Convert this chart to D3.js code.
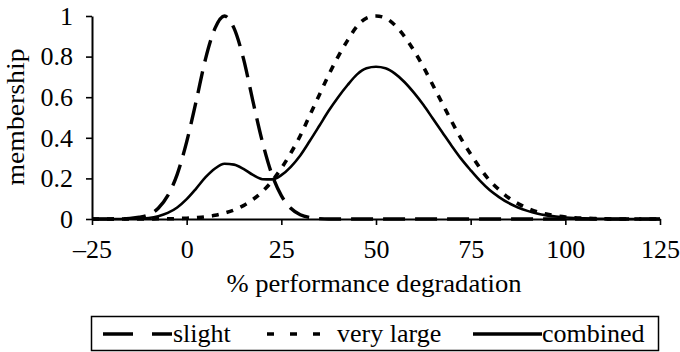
<!DOCTYPE html>
<html>
<head>
<meta charset="utf-8">
<script src="https://cdn.jsdelivr.net/npm/d3@7"></script>
<style>
  body { margin: 0; background: #fff; }
</style>
</head>
<body>
<div id="chart"></div>
<script>
// % performance degradation, every 2.5 from -25 to 125
const xValues = d3.range(-25, 125.01, 2.5);

const slight = [
  0, 0, 0, 0, 0.003, 0.009, 0.021, 0.053, 0.115, 0.22,
  0.38, 0.58, 0.79, 0.94, 1.0, 0.94, 0.79, 0.58, 0.38, 0.22,
  0.115, 0.053, 0.021, 0.007, 0.002, 0, 0, 0, 0, 0,
  0, 0, 0, 0, 0, 0, 0, 0, 0, 0,
  0, 0, 0, 0, 0, 0, 0, 0, 0, 0,
  0, 0, 0, 0, 0, 0, 0, 0, 0, 0, 0
];
const veryLarge = [
  0, 0, 0, 0, 0, 0, 0, 0.001, 0.001, 0.002,
  0.004, 0.007, 0.011, 0.018, 0.029, 0.044, 0.066, 0.096, 0.135, 0.186,
  0.25, 0.325, 0.41, 0.51, 0.61, 0.71, 0.80, 0.88, 0.95, 0.99,
  1.0, 0.99, 0.955, 0.90, 0.83, 0.75, 0.66, 0.57, 0.48, 0.395,
  0.32, 0.25, 0.19, 0.144, 0.105, 0.076, 0.053, 0.036, 0.024, 0.016,
  0.010, 0.006, 0.004, 0.002, 0.001, 0, 0, 0, 0, 0, 0
];
const combined = [
  0, 0, 0, 0, 0.001, 0.002, 0.005, 0.014, 0.030, 0.057,
  0.098, 0.150, 0.206, 0.249, 0.272, 0.268, 0.247, 0.217, 0.196, 0.195,
  0.216, 0.257, 0.313, 0.384, 0.458, 0.533, 0.60, 0.66, 0.7125, 0.7425,
  0.75, 0.7425, 0.716, 0.675, 0.6225, 0.5625, 0.495, 0.4275, 0.36, 0.296,
  0.24, 0.1875, 0.1425, 0.108, 0.079, 0.057, 0.040, 0.027, 0.018, 0.012,
  0.0075, 0.0045, 0.003, 0.0015, 0.001, 0, 0, 0, 0, 0, 0
];

const xTicks = [-25, 0, 25, 50, 75, 100, 125];
const yTicks = [0, 0.2, 0.4, 0.6, 0.8, 1];
const seriesNames = ["slight", "very large", "combined"];

const width = 680, height = 352;
const serif = "'Liberation Serif', Tinos, 'Noto Serif', 'Nimbus Roman', 'Times New Roman', Times, FreeSerif, 'DejaVu Serif', serif";

const svg = d3.select("#chart").append("svg")
  .attr("width", width)
  .attr("height", height)
  .style("font-family", serif);

// if no serif face is found, fall back to a smaller size so widths still match
const probe = svg.append("text").attr("font-size", 26).text("0.8 combined");
const probeW = probe.node().getComputedTextLength();
probe.remove();
const fontSize = probeW > 150 ? 23 : 26;

const x = d3.scaleLinear().domain([-25, 125]).range([92, 660]);
const y = d3.scaleLinear().domain([0, 1]).range([219, 16]);

// dash styles per series
const styles = [
  { dash: "22,10", w: 3.4 },
  { dash: "7,8", w: 3.6 },
  { dash: null, w: 2.6 }
];

const line = d3.line()
  .x((d, i) => x(xValues[i]))
  .y(d => y(d))
  .curve(d3.curveMonotoneX);

// axes
const xAxis = svg.append("g")
  .attr("transform", "translate(0,219)")
  .call(d3.axisBottom(x).tickValues(xTicks).tickSize(6).tickSizeOuter(0).tickPadding(15)
    .tickFormat(d => d < 0 ? "\u2013" + Math.abs(d) : d));
const yAxis = svg.append("g")
  .attr("transform", "translate(92,0)")
  .call(d3.axisLeft(y).tickValues(yTicks).tickSize(6).tickSizeOuter(0).tickPadding(13)
    .tickFormat(d => d === 0 || d === 1 ? d : d3.format(".1f")(d)));

[xAxis, yAxis].forEach(g => {
  g.attr("font-family", null).style("font-family", serif).attr("font-size", fontSize);
  g.select(".domain").attr("stroke-width", 2);
  g.selectAll(".tick line").attr("stroke-width", 1.6);
  g.selectAll("text").attr("fill", "#000");
});

[slight, veryLarge, combined].forEach((s, k) => {
  svg.append("path")
    .datum(s)
    .attr("fill", "none")
    .attr("stroke", "#000")
    .attr("stroke-width", styles[k].w)
    .attr("stroke-dasharray", styles[k].dash)
    .attr("d", line);
});

// axis titles
svg.append("text")
  .attr("x", 374)
  .attr("y", 292)
  .attr("text-anchor", "middle")
  .attr("font-size", 26)
  .attr("textLength", 295)
  .attr("lengthAdjust", "spacingAndGlyphs")
  .text("% performance degradation");

svg.append("text")
  .attr("transform", "translate(24,117) rotate(-90)")
  .attr("text-anchor", "middle")
  .attr("font-size", 26)
  .attr("textLength", 137)
  .attr("lengthAdjust", "spacingAndGlyphs")
  .text("membership");

// legend
const legend = svg.append("g");
legend.append("rect")
  .attr("x", 91.5).attr("y", 316.5)
  .attr("width", 567).attr("height", 34)
  .attr("fill", "none")
  .attr("stroke", "#000")
  .attr("stroke-width", 1.5);

const legendItems = [
  { x1: 103, x2: 172, tx: 173, dash: "30,19" },
  { x1: 267, x2: 326, tx: 337, dash: "7,16" },
  { x1: 473, x2: 542, tx: 542, dash: null }
];
legendItems.forEach((it, k) => {
  legend.append("line")
    .attr("x1", it.x1).attr("x2", it.x2)
    .attr("y1", 334).attr("y2", 334)
    .attr("stroke", "#000")
    .attr("stroke-width", 3.4)
    .attr("stroke-dasharray", it.dash);
  legend.append("text")
    .attr("x", it.tx)
    .attr("y", 342)
    .attr("font-size", fontSize)
    .text(seriesNames[k]);
});
</script>
</body>
</html>
